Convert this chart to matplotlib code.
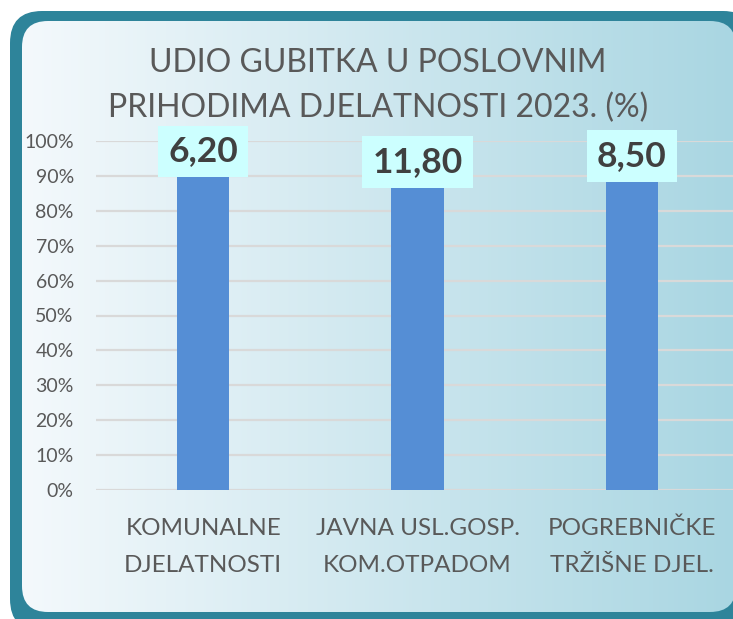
import numpy as np
import matplotlib
matplotlib.use("Agg")
import matplotlib.pyplot as plt
from matplotlib.patches import FancyBboxPatch
from matplotlib.ticker import PercentFormatter
import matplotlib.transforms as mtransforms

# ---- data ----
categories = ["KOMUNALNE\nDJELATNOSTI", "JAVNA USL.GOSP.\nKOM.OTPADOM", "POGREBNIČKE\nTRŽIŠNE DJEL."]
values = [6.20, 11.80, 8.50]          # shown as data labels; bars exceed the 0-100% axis
value_labels = ["6,20", "11,80", "8,50"]
title_lines = ["UDIO GUBITKA U POSLOVNIM", "PRIHODIMA DJELATNOSTI 2023. (%)"]
yticks = [0, 0.1, 0.2, 0.3, 0.4, 0.5, 0.6, 0.7, 0.8, 0.9, 1.0]

# ---- style ----
FONT = ["Lato", "DejaVu Sans"]
plt.rcParams["font.family"] = FONT
W, H = 733, 619
DPI = 100
teal = "#2E849A"
grad_left = np.array([0xF4, 0xF9, 0xFC]) / 255
grad_right = np.array([0xA9, 0xD6, 0xE2]) / 255
bar_color = "#558ED5"
box_color = "#CCFFFF"
text_gray = "#595959"
label_dark = "#404040"
grid_color = "#D9D9D9"
label_y_axes = [0.970, 0.940, 0.957]

fig = plt.figure(figsize=(W / DPI, H / DPI), dpi=DPI)
fig.patch.set_facecolor("white")

# background panel (pixel coordinates)
bg = fig.add_axes([0, 0, 1, 1])
bg.set_xlim(0, W)
bg.set_ylim(H, 0)
bg.axis("off")
outer = FancyBboxPatch((10, 11), 745, 620, boxstyle="round,pad=0,rounding_size=32",
                       facecolor=teal, edgecolor="none")
bg.add_patch(outer)
inner = FancyBboxPatch((22, 21), 714, 591, boxstyle="round,pad=0,rounding_size=26",
                       facecolor="none", edgecolor="none")
bg.add_patch(inner)
t = np.linspace(0, 1, 256)
grad = (grad_left[None, :] * (1 - t[:, None]) + grad_right[None, :] * t[:, None])[None, :, :]
im = bg.imshow(grad, extent=(22, 736, 612, 21), aspect="auto", interpolation="bilinear", zorder=1)
im.set_clip_path(inner)

# title
fig.text(378 / W, 1 - 72 / H, title_lines[0], ha="center", va="baseline",
         fontsize=23, color=text_gray)
fig.text(378 / W, 1 - 117 / H, title_lines[1], ha="center", va="baseline",
         fontsize=23, color=text_gray)

# plot axes
left_px, right_px, top_px, bottom_px = 96, 739, 141, 490
ax = fig.add_axes([left_px / W, 1 - bottom_px / H, (right_px - left_px) / W, (bottom_px - top_px) / H])
ax.patch.set_alpha(0)
x = np.arange(len(categories))
ax.bar(x, values, width=0.245, color=bar_color, zorder=2)
ax.set_xlim(-0.5, len(categories) - 0.5)
ax.set_ylim(0, 1)
ax.set_yticks(yticks)
ax.yaxis.set_major_formatter(PercentFormatter(1.0, decimals=0))
ax.grid(axis="y", color=grid_color, linewidth=1.6, zorder=0)
ax.set_axisbelow(True)
for s in ax.spines.values():
    s.set_visible(False)
ax.tick_params(axis="y", length=0, pad=16, labelsize=14, labelcolor=text_gray)
ax.tick_params(axis="x", length=0, pad=20, labelsize=17.5, labelcolor=text_gray)
ax.set_xticks(x)
ax.set_xticklabels(categories, linespacing=1.95)

trans = mtransforms.blended_transform_factory(ax.transData, ax.transAxes)
for xi, lab, ly in zip(x, value_labels, label_y_axes):
    ax.text(xi, ly, lab, transform=trans, ha="center", va="center",
            fontsize=25.5, fontweight="bold", color=label_dark, zorder=5, clip_on=False,
            bbox=dict(boxstyle="square,pad=0.28", facecolor=box_color, edgecolor="none"))

fig.savefig("out.png", dpi=DPI)
